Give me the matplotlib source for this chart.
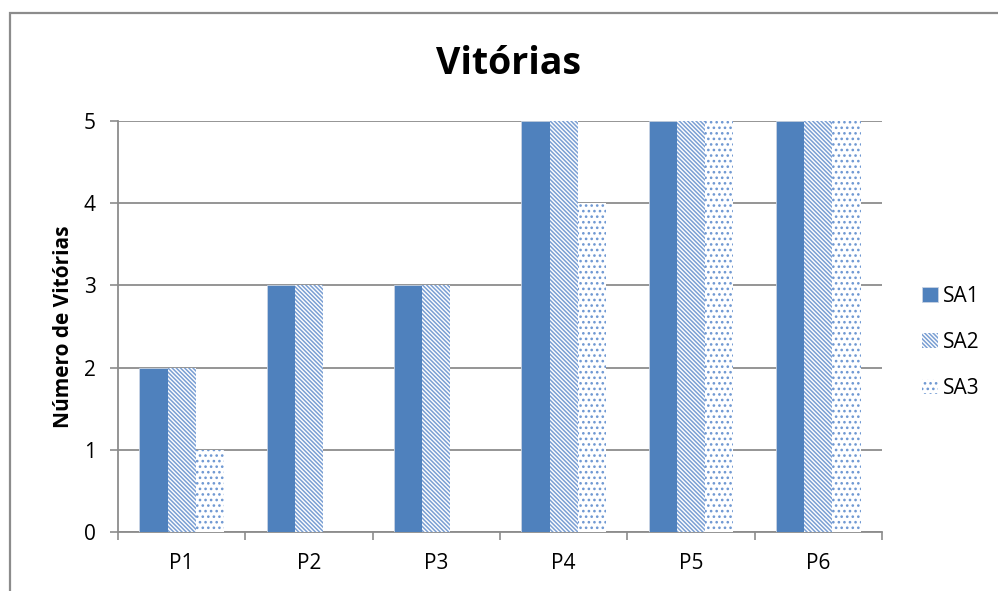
import matplotlib
matplotlib.use("Agg")
import matplotlib.pyplot as plt
from matplotlib.patches import Rectangle
import numpy as np

categories = ["P1", "P2", "P3", "P4", "P5", "P6"]
series_names = ["SA1", "SA2", "SA3"]
sa1 = [2, 3, 3, 5, 5, 5]
sa2 = [2, 3, 3, 5, 5, 5]
sa3 = [1, 0, 0, 4, 5, 5]

plt.rcParams["font.family"] = ["Open Sans", "DejaVu Sans"]
plt.rcParams["hatch.linewidth"] = 1.1

fig = plt.figure(figsize=(9.98, 5.91), dpi=100)
fig.patch.set_facecolor("white")

# outer chart frame
frame = Rectangle((10 / 998, -0.05), 1.2, (591 - 13) / 591 + 0.05,
                  transform=fig.transFigure, fill=False,
                  edgecolor="#8c8c8c", linewidth=1.6, zorder=0)
fig.patches.append(frame)

ax = fig.add_axes([118 / 998, (591 - 532) / 591, 764 / 998, 411 / 591])

x = np.arange(len(categories))
w = 1 / 4.5
blue = "#4F81BD"

ax.bar(x - w, sa1, w, color=blue, edgecolor="#c8d3e3", linewidth=0.6, zorder=3,
       label=series_names[0])
ax.bar(x, sa2, w, color="white", edgecolor="#7a9fd3", linewidth=0,
       hatch="\\" * 8, zorder=3, label=series_names[1])
ax.bar(x + w, sa3, w, color="white", edgecolor="#6f98d2", linewidth=0,
       hatch="." * 3, zorder=3, label=series_names[2])

ax.set_xlim(-0.5, len(categories) - 0.5)
ax.set_ylim(0, 5)
ax.set_yticks(range(0, 6))
ax.yaxis.grid(True, color="#8c8c8c", linewidth=1.3)
ax.set_axisbelow(True)

ax.set_xticks(x)
ax.set_xticklabels(categories)
ax.set_xticks(np.arange(-0.5, len(categories) + 0.5, 1), minor=True)
ax.tick_params(axis="x", which="major", length=0, pad=15, labelsize=15)
ax.tick_params(axis="x", which="minor", length=6, color="#8c8c8c", width=1.2)
ax.tick_params(axis="y", length=6, color="#8c8c8c", width=1.2, pad=10, labelsize=15)

for side in ["top", "right"]:
    ax.spines[side].set_visible(False)
for side in ["left", "bottom"]:
    ax.spines[side].set_color("#8c8c8c")
    ax.spines[side].set_linewidth(1.3)

ax.set_ylabel("Número de Vitórias", fontsize=15, fontweight="bold", labelpad=7)
fig.text(0.5095, 1 - 64 / 591, "Vitórias", ha="center", va="center",
         fontsize=27, fontweight="bold")

leg = fig.legend(loc="center left", bbox_to_anchor=(922 / 998, 1 - 342 / 591),
                 frameon=False, fontsize=15, handlelength=0.75, handleheight=0.75,
                 labelspacing=1.2, handletextpad=0.25, borderpad=0, borderaxespad=0)

fig.savefig("out.png", dpi=100)
